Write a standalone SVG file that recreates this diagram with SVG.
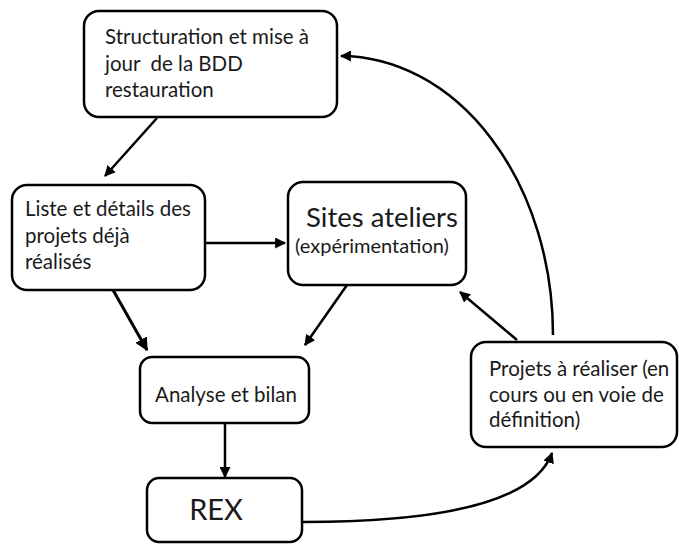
<svg xmlns="http://www.w3.org/2000/svg" width="679" height="544" viewBox="0 0 679 544">
<defs>
<marker id="ah" viewBox="0 0 10 10" refX="9" refY="5" markerWidth="4.4" markerHeight="4.4" orient="auto" markerUnits="strokeWidth">
<path d="M0,0 L10,5 L0,10 z" fill="#000"/>
</marker>
<style>
.box{fill:#fff;stroke:#000;stroke-width:2.5}
.t{font-family:Lato,"Open Sans",sans-serif;font-size:20.5px;fill:#1a1a1a}
.c{fill:none;stroke:#000;stroke-width:2.5;marker-end:url(#ah)}
</style>
</defs>
<rect width="679" height="544" fill="#fff"/>
<g id="connectors">
<line class="c" x1="157" y1="118" x2="105" y2="176"/>
<line class="c" x1="205" y1="243" x2="285" y2="243"/>
<line class="c" x1="113" y1="290" x2="147" y2="350" style="stroke-width:3"/>
<line class="c" x1="347" y1="285" x2="305" y2="345"/>
<line class="c" x1="225" y1="423" x2="225" y2="477"/>
<path class="c" d="M303,522 C450,522 535,500 552,453"/>
<line class="c" x1="517" y1="340" x2="460" y2="292"/>
<path class="c" d="M553,335 A213,279 0 0 0 341,56"/>
</g>
<g id="n1">
<rect class="box" x="84" y="11" width="253" height="106" rx="15"/>
<text class="t" x="105" y="44">Structuration et mise à</text>
<text class="t" x="105" y="71" xml:space="preserve">jour  de la BDD</text>
<text class="t" x="105" y="97">restauration</text>
</g>
<g id="n2">
<rect class="box" x="12" y="185" width="193" height="105" rx="15"/>
<text class="t" x="25" y="216">Liste et détails des</text>
<text class="t" x="25" y="243">projets déjà</text>
<text class="t" x="25" y="269">réalisés</text>
</g>
<g id="n3">
<rect class="box" x="288" y="182" width="178" height="103" rx="15"/>
<text class="t" x="382" y="227" text-anchor="middle" style="font-size:27.5px">Sites ateliers</text>
<text class="t" x="372" y="253" text-anchor="middle" style="font-size:20px">(expérimentation)</text>
</g>
<g id="n4">
<rect class="box" x="140" y="357" width="169" height="66" rx="12"/>
<text class="t" x="226" y="402" text-anchor="middle">Analyse et bilan</text>
</g>
<g id="n5">
<rect class="box" x="147" y="478" width="155" height="64" rx="12"/>
<text class="t" x="216" y="520" text-anchor="middle" style="font-size:29px">REX</text>
</g>
<g id="n6">
<rect class="box" x="471" y="342" width="206" height="105" rx="15"/>
<text class="t" x="489" y="376">Projets à réaliser (en</text>
<text class="t" x="489" y="402">cours ou en voie de</text>
<text class="t" x="489" y="427">définition)</text>
</g>
</svg>
